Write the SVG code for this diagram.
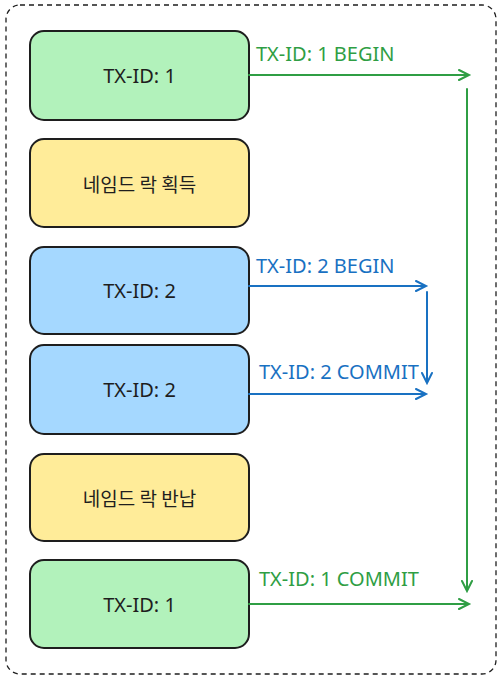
<svg xmlns="http://www.w3.org/2000/svg" width="500" height="680" viewBox="0 0 500 680">
<defs>
<style>
.node{stroke:#1e1e1e;stroke-width:2}
.g{fill:#b2f2bb}.y{fill:#ffec99}.b{fill:#a5d8ff}
.t{font-family:"Noto Sans","Noto Sans CJK KR",sans-serif;font-size:20px;fill:#1e1e1e;text-anchor:middle;dominant-baseline:central}
.k{font-family:"Noto Sans CJK KR",sans-serif;font-size:19px}
.lg{font-family:"Noto Sans",sans-serif;font-size:20px;fill:#2f9e44}
.lb{font-family:"Noto Sans",sans-serif;font-size:20px;fill:#1971c2}
.cg{stroke:#2f9e44;stroke-width:2;fill:none;stroke-linecap:round}
.cb{stroke:#1971c2;stroke-width:2;fill:none;stroke-linecap:round}
</style>
</defs>
<rect x="6" y="5" width="490" height="669" rx="14" fill="none" stroke="#1e1e1e" stroke-width="1.3" stroke-dasharray="5 4"/>
<g id="n1"><rect class="node g" x="30" y="31" width="219" height="89" rx="14"/><text class="t" x="139.5" y="75.5">TX-ID: 1</text></g>
<g id="n2"><rect class="node y" x="30" y="139" width="219" height="88" rx="14"/><text class="t k" x="139.5" y="183">네임드 락 획득</text></g>
<g id="n3"><rect class="node b" x="30" y="247" width="219" height="87" rx="14"/><text class="t" x="139.5" y="290.5">TX-ID: 2</text></g>
<g id="n4"><rect class="node b" x="30" y="345" width="219" height="89" rx="14"/><text class="t" x="139.5" y="389.5">TX-ID: 2</text></g>
<g id="n5"><rect class="node y" x="30" y="454" width="219" height="87" rx="14"/><text class="t k" x="139.5" y="497.5">네임드 락 반납</text></g>
<g id="n6"><rect class="node g" x="30" y="560" width="219" height="88" rx="14"/><text class="t" x="139.5" y="604">TX-ID: 1</text></g>
<g id="connectors">
<path class="cg" d="M249 75H469M459 70L469 75L459 80"/>
<path class="cg" d="M467 89V591M462 581L467 591L472 581"/>
<path class="cg" d="M249 604H469M459 599L469 604L459 609"/>
<path class="cb" d="M249 286H426M416 281L426 286L416 291"/>
<path class="cb" d="M427 292V383M422 373L427 383L432 373"/>
<path class="cb" d="M249 394H426M416 389L426 394L416 399"/>
<text class="lg" x="256" y="61">TX-ID: 1 BEGIN</text>
<text class="lg" x="259" y="586">TX-ID: 1 COMMIT</text>
<text class="lb" x="256" y="273">TX-ID: 2 BEGIN</text>
<text class="lb" x="259" y="379">TX-ID: 2 COMMIT</text>
</g>
</svg>
